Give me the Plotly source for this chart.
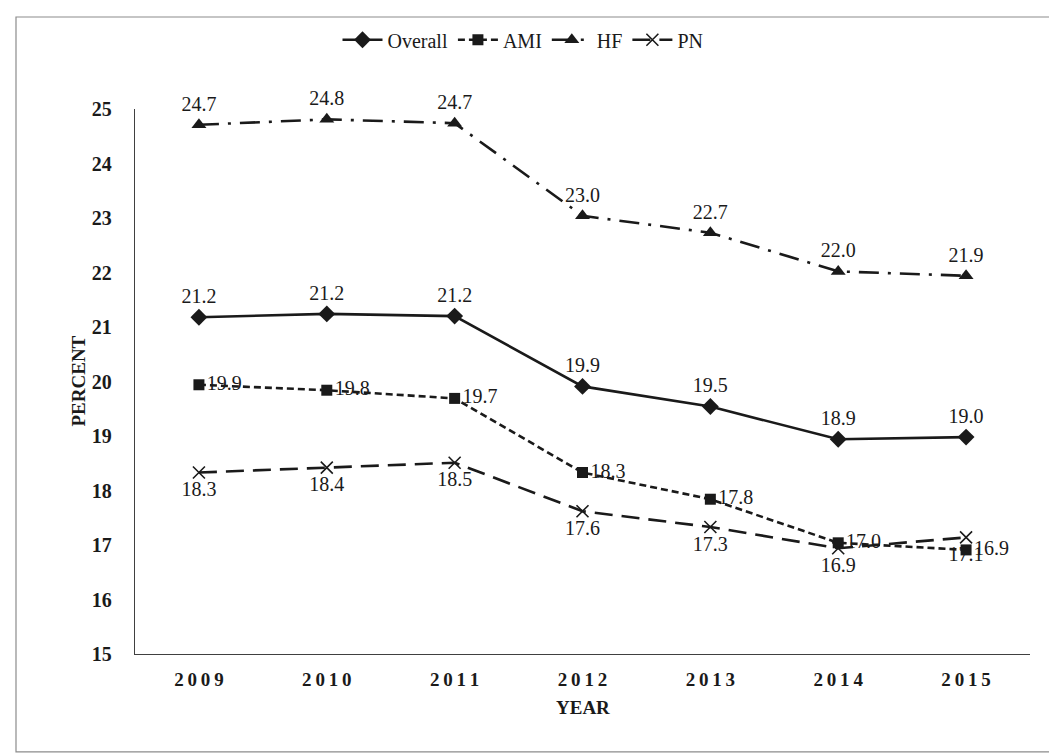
import plotly.graph_objects as go

years = ["2009", "2010", "2011", "2012", "2013", "2014", "2015"]
overall = [21.18, 21.24, 21.2, 19.91, 19.54, 18.94, 18.98]
ami = [19.94, 19.84, 19.69, 18.33, 17.84, 17.04, 16.91]
hf = [24.71, 24.81, 24.74, 23.04, 22.73, 22.02, 21.94]
pn = [18.33, 18.42, 18.51, 17.62, 17.33, 16.94, 17.14]
y_ticks = list(range(15, 26))

ink = "#1a1a1a"
serif = "Liberation Serif, Times New Roman, serif"

L, R, T, B = 127, 35, 95, 107
W, H = 1057, 753
pw, ph = W - L - R, H - T - B

fig = go.Figure()

def add(name, vals, symbol, msize, dash, pos, mline=0):
    fig.add_trace(go.Scatter(
        x=years, y=vals, name=name, mode="lines+markers+text",
        line=dict(color=ink, width=2.6, dash=dash),
        marker=dict(symbol=symbol, size=msize, color=ink,
                    line=dict(color=ink, width=mline)),
        text=[f"{v:.1f}" for v in vals], textposition=pos,
        textfont=dict(family=serif, size=20, color=ink),
        cliponaxis=False,
    ))

add("Overall", overall, "diamond", 13, "solid", "top center")
add("AMI", ami, "square", 11, "7px,4px", "middle right")
add("HF", hf, "triangle-up", 13, "20px,9px,3px,9px", "top center")
add("PN", pn, "x-thin-open", 12, "18px,9px", "bottom center", mline=1.6)

fig.update_layout(
    width=W, height=H,
    margin=dict(l=L, r=R, t=T, b=B),
    paper_bgcolor="white", plot_bgcolor="white",
    font=dict(family=serif, color=ink),
    showlegend=True,
    legend=dict(orientation="h", x=(515 - L) / pw, xanchor="center",
                y=(H - B - 25) / ph, yanchor="middle",
                font=dict(family=serif, size=20, color=ink),
                bgcolor="rgba(0,0,0,0)", itemwidth=40),
    xaxis=dict(type="category", range=[-0.5, 6.5], showgrid=False,
               showline=True, linecolor="#404040", linewidth=1.3,
               tickmode="array", tickvals=years,
               ticktext=["\u2009".join(y) for y in years],
               ticks="", ticklabelstandoff=8,
               tickfont=dict(family=serif, size=19, color=ink, weight="bold"),
               zeroline=False),
    yaxis=dict(range=[15, 25], showgrid=False, showline=True,
               linecolor="#404040", linewidth=1.3,
               tickmode="array", tickvals=y_ticks,
               ticks="", ticklabelstandoff=18,
               tickfont=dict(family=serif, size=20, color=ink, weight="bold"),
               zeroline=False),
    annotations=[
        dict(text="<b>YEAR</b>", xref="paper", yref="paper",
             x=0.5, y=(H - B - 700) / ph, xanchor="center", yanchor="middle",
             showarrow=False, font=dict(family=serif, size=19, color=ink)),
        dict(text="<b>PERCENT</b>", xref="paper", yref="paper",
             x=(70 - L) / pw, y=0.5, xanchor="center", yanchor="middle",
             textangle=-90, showarrow=False,
             font=dict(family=serif, size=19, color=ink)),
    ],
    shapes=[dict(type="rect", xref="paper", yref="paper",
                 x0=(8 - L) / pw, x1=(1048 - L) / pw,
                 y0=(H - B - 745) / ph, y1=(H - B - 2) / ph,
                 line=dict(color="#8c8c8c", width=1.2), fillcolor="rgba(0,0,0,0)",
                 layer="below")],
)

fig.write_html("out.html")
